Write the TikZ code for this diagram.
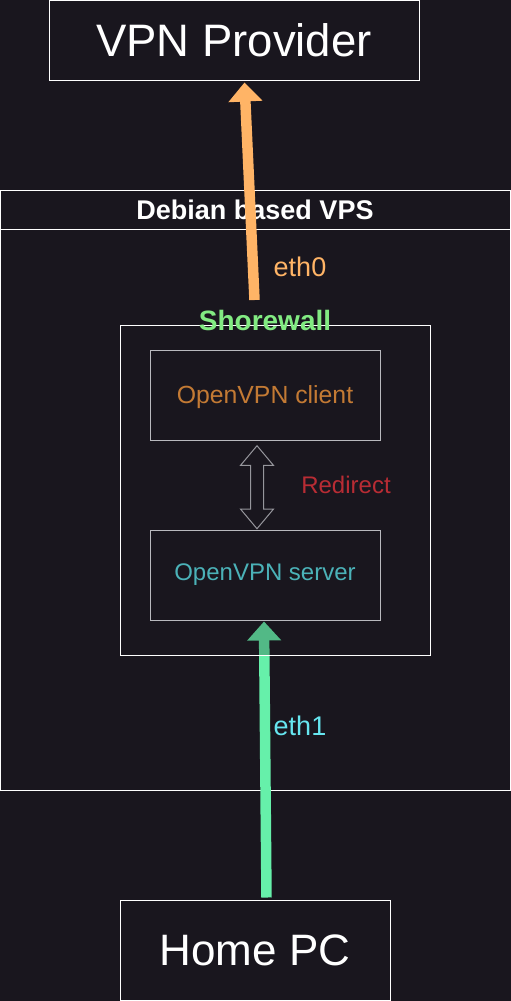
\documentclass[tikz,border=0pt]{standalone}
\usepackage{fontspec}
\setmainfont{Liberation Sans}
\usetikzlibrary{arrows.meta, shapes.arrows}

\definecolor{bgc}{RGB}{25,22,30}
\definecolor{boxgray}{RGB}{185,185,190}
\definecolor{swapgray}{RGB}{150,150,156}
\definecolor{clientc}{RGB}{195,122,52}
\definecolor{serverc}{RGB}{75,178,184}
\definecolor{redirc}{RGB}{184,44,52}
\definecolor{wanc}{RGB}{255,180,102}
\definecolor{lanc}{RGB}{102,240,170}
\definecolor{ethonec}{RGB}{102,230,240}
\definecolor{shorec}{RGB}{130,235,130}

\pgfdeclarelayer{back}
\pgfdeclarelayer{front}
\pgfsetlayers{back,main,front}

\begin{document}
\begin{tikzpicture}[x=1pt, y=-1pt,
    box/.style={
        rectangle, inner sep=0pt,
        draw=white, line width=1pt, fill=bgc, text=white
    },
    hostbox/.style={box, font=\fontsize{44}{48}\selectfont},
    vpnbox/.style={box, draw=boxgray,
        minimum width=230pt, minimum height=90pt,
        font=\fontsize{24}{28}\selectfont},
    lbl/.style={inner sep=0pt, anchor=base, font=\fontsize{27}{30}\selectfont},
    pipe/.style={
        -{Triangle[length=19pt, width=33pt]},
        line width=10.5pt
    },
    swap/.style={
        double arrow, draw=swapgray, fill=bgc, line width=1pt,
        inner xsep=0pt, inner ysep=6pt, minimum height=83pt,
        double arrow head extend=10pt, double arrow tip angle=80,
        rotate=90
    }
]

\useasboundingbox (0,0) rectangle (511,1001);

\begin{pgfonlayer}{back}
\fill[bgc] (0,0) rectangle (511,1001);
\node[box, minimum width=510pt, minimum height=600pt] at (255.5,490) (vps) {};
\draw[white, line width=1pt] ([yshift=-40pt]vps.north west) -- ([yshift=-40pt]vps.north east);
\node[lbl, text=white, font=\fontsize{27}{30}\selectfont\bfseries] at (255,219) (vpstitle) {Debian based VPS};
\end{pgfonlayer}

\begin{pgfonlayer}{front}
\node[hostbox, minimum width=370pt, minimum height=80pt, font=\fontsize{45.5}{50}\selectfont] at (234,40) (provider) {VPN Provider};
\node[hostbox, minimum width=270pt, minimum height=100pt] at (255,950) (homepc) {Home PC};

\node[vpnbox, text=clientc, text depth=0pt, font=\fontsize{24.8}{28}\selectfont] at (265,395) (client) {OpenVPN client\hspace{9pt}};
\node[vpnbox, text=serverc] at (265,575) (server) {OpenVPN server};

\node[swap, anchor=west] at ([xshift=-8pt]server.north) (redir) {};
\node[lbl, text=redirc, font=\fontsize{24}{28}\selectfont] at (346,493) (redirlbl) {Redirect};

\node[lbl, text=wanc]    at (300,276) (eth0) {eth0};
\node[lbl, text=ethonec] at (300,735) (eth1) {eth1};
\end{pgfonlayer}

\coordinate (wan) at (254.5,300);

\draw[pipe, wanc] (wan) -- ([xshift=10.5pt, yshift=-2pt]provider.south);
\draw[pipe, lanc] ([xshift=11.5pt, yshift=2pt]homepc.north) -- ([xshift=-1pt, yshift=-1pt]server.south);

\node[box, fill opacity=0.25, minimum width=310pt, minimum height=330pt] at (275,490) (shorewall) {};
\node[lbl, text=shorec, font=\fontsize{28}{30}\selectfont\bfseries] at (265,330) (shorelbl) {Shorewall};

\end{tikzpicture}
\end{document}
